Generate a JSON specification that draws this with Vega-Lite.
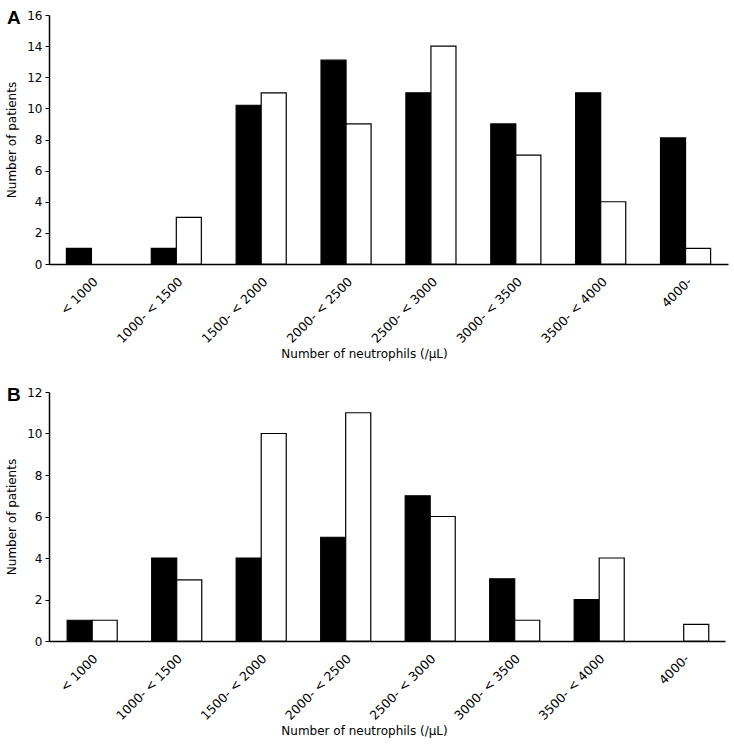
{
  "$schema": "https://vega.github.io/schema/vega-lite/v6.json",
  "padding": {"left": 5, "top": 9, "right": 5, "bottom": 5},
  "spacing": 26,
  "config": {
    "font": "DejaVu Sans",
    "view": {"stroke": null},
    "axis": {
      "domainColor": "#000", "domainWidth": 1.5, "tickColor": "#000", "labelColor": "#000", "titleColor": "#000",
      "grid": false, "labelFontSize": 12, "titleFontSize": 12, "titleFontWeight": "normal", "labelFont": "DejaVu Sans", "titleFont": "DejaVu Sans"
    }
  },
  "datasets": {
    "counts": [
      {"panel": "A", "bin": "< 1000", "group": "1", "patients": 1},
      {"panel": "A", "bin": "< 1000", "group": "2", "patients": 0},
      {"panel": "A", "bin": "1000- < 1500", "group": "1", "patients": 1},
      {"panel": "A", "bin": "1000- < 1500", "group": "2", "patients": 3},
      {"panel": "A", "bin": "1500- < 2000", "group": "1", "patients": 10.2},
      {"panel": "A", "bin": "1500- < 2000", "group": "2", "patients": 11},
      {"panel": "A", "bin": "2000- < 2500", "group": "1", "patients": 13.1},
      {"panel": "A", "bin": "2000- < 2500", "group": "2", "patients": 9},
      {"panel": "A", "bin": "2500- < 3000", "group": "1", "patients": 11},
      {"panel": "A", "bin": "2500- < 3000", "group": "2", "patients": 14},
      {"panel": "A", "bin": "3000- < 3500", "group": "1", "patients": 9},
      {"panel": "A", "bin": "3000- < 3500", "group": "2", "patients": 7},
      {"panel": "A", "bin": "3500- < 4000", "group": "1", "patients": 11},
      {"panel": "A", "bin": "3500- < 4000", "group": "2", "patients": 4},
      {"panel": "A", "bin": "4000-", "group": "1", "patients": 8.1},
      {"panel": "A", "bin": "4000-", "group": "2", "patients": 1},
      {"panel": "B", "bin": "< 1000", "group": "1", "patients": 1},
      {"panel": "B", "bin": "< 1000", "group": "2", "patients": 1},
      {"panel": "B", "bin": "1000- < 1500", "group": "1", "patients": 4},
      {"panel": "B", "bin": "1000- < 1500", "group": "2", "patients": 2.95},
      {"panel": "B", "bin": "1500- < 2000", "group": "1", "patients": 4},
      {"panel": "B", "bin": "1500- < 2000", "group": "2", "patients": 10},
      {"panel": "B", "bin": "2000- < 2500", "group": "1", "patients": 5},
      {"panel": "B", "bin": "2000- < 2500", "group": "2", "patients": 11},
      {"panel": "B", "bin": "2500- < 3000", "group": "1", "patients": 7},
      {"panel": "B", "bin": "2500- < 3000", "group": "2", "patients": 6},
      {"panel": "B", "bin": "3000- < 3500", "group": "1", "patients": 3},
      {"panel": "B", "bin": "3000- < 3500", "group": "2", "patients": 1},
      {"panel": "B", "bin": "3500- < 4000", "group": "1", "patients": 2},
      {"panel": "B", "bin": "3500- < 4000", "group": "2", "patients": 4},
      {"panel": "B", "bin": "4000-", "group": "1", "patients": 0},
      {"panel": "B", "bin": "4000-", "group": "2", "patients": 0.8}
    ]
  },
  "vconcat": [
    {
      "width": 679, "height": 249,
      "title": {"text": "A", "anchor": "start", "frame": "group", "fontSize": 19, "fontWeight": "bold", "font": "Liberation Sans", "dx": -42, "dy": 19, "offset": 0},
      "data": {"name": "counts"},
      "transform": [{"filter": "datum.panel === 'A' && datum.patients > 0"}],
      "mark": {"type": "bar", "stroke": "#000", "strokeWidth": 1.2},
      "encoding": {
        "x": {"field": "bin", "type": "nominal", "sort": null,
          "scale": {"domain": ["< 1000", "1000- < 1500", "1500- < 2000", "2000- < 2500", "2500- < 3000", "3000- < 3500", "3500- < 4000", "4000-"], "paddingInner": 0.41, "paddingOuter": 0.205},
          "axis": {"title": "Number of neutrophils (/\u03bcL)", "labelAngle": -45, "labelFontSize": 12.5, "ticks": false, "labelPadding": 11, "titleX": 315, "titlePadding": 3}},
        "xOffset": {"field": "group", "type": "nominal"},
        "y": {"field": "patients", "type": "quantitative",
          "scale": {"domain": [0, 16], "nice": false},
          "axis": {"title": "Number of patients", "values": [0, 2, 4, 6, 8, 10, 12, 14, 16], "tickSize": 4, "labelPadding": 3, "titlePadding": 8}},
        "fill": {"field": "group", "type": "nominal", "scale": {"domain": ["1", "2"], "range": ["#000000", "#ffffff"]}, "legend": null}
      }
    },
    {
      "width": 676, "height": 249,
      "title": {"text": "B", "anchor": "start", "frame": "group", "fontSize": 19, "fontWeight": "bold", "font": "Liberation Sans", "dx": -42, "dy": 19, "offset": 0},
      "data": {"name": "counts"},
      "transform": [{"filter": "datum.panel === 'B' && datum.patients > 0"}],
      "mark": {"type": "bar", "stroke": "#000", "strokeWidth": 1.2},
      "encoding": {
        "x": {"field": "bin", "type": "nominal", "sort": null,
          "scale": {"domain": ["< 1000", "1000- < 1500", "1500- < 2000", "2000- < 2500", "2500- < 3000", "3000- < 3500", "3500- < 4000", "4000-"], "paddingInner": 0.43, "paddingOuter": 0.215},
          "axis": {"title": "Number of neutrophils (/\u03bcL)", "labelAngle": -45, "labelFontSize": 12.5, "ticks": false, "labelPadding": 11, "titleX": 315, "titlePadding": 3}},
        "xOffset": {"field": "group", "type": "nominal"},
        "y": {"field": "patients", "type": "quantitative",
          "scale": {"domain": [0, 12], "nice": false},
          "axis": {"title": "Number of patients", "values": [0, 2, 4, 6, 8, 10, 12], "tickSize": 4, "labelPadding": 3, "titlePadding": 8}},
        "fill": {"field": "group", "type": "nominal", "scale": {"domain": ["1", "2"], "range": ["#000000", "#ffffff"]}, "legend": null}
      }
    }
  ]
}
